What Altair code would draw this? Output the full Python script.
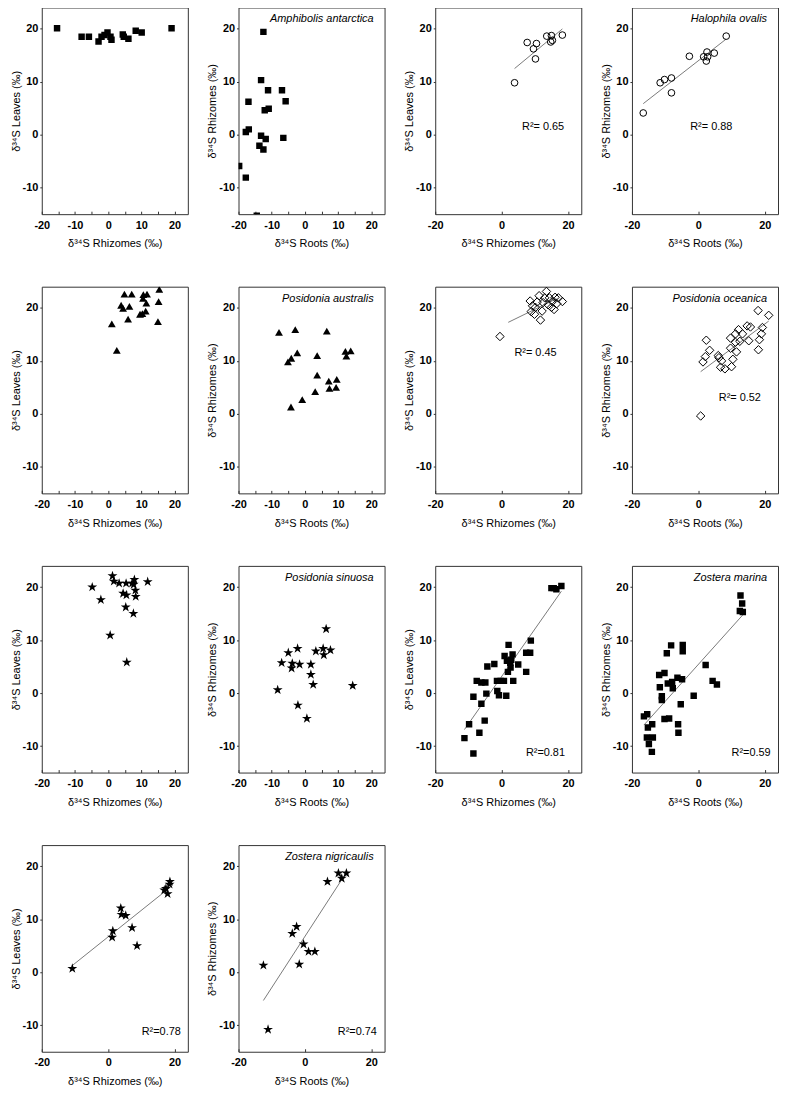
import altair as alt
import pandas as pd

# ---------------- data ----------------
# Amphibolis antarctica
aa_lr_x = [-15.4, -8.0, -5.8, -2.9, -2.0, -1.1, -0.2, 0.7, 1.0, 4.4, 4.7, 6.1, 8.3, 10.1, 19.1]
aa_lr_y = [20.1, 18.5, 18.5, 17.6, 18.5, 18.8, 19.3, 18.5, 17.9, 18.9, 18.5, 18.1, 19.6, 19.3, 20.1]
aa_rr_x = [-12.5, -13.2, -11.1, -6.9, -5.8, -17.0, -12.1, -10.9, -16.9, -17.8, -13.2, -11.8, -6.5, -13.7, -12.5, -19.8, -17.8, -14.5]
aa_rr_y = [19.4, 10.3, 8.4, 8.4, 6.3, 6.2, 4.6, 4.9, 1.0, 0.5, -0.2, -0.8, -0.6, -2.1, -2.8, -5.9, -8.1, -15.3]

# Halophila ovalis
ho_lr_x = [3.9, 7.7, 9.6, 10.5, 10.2, 13.6, 14.8, 15.0, 15.3, 18.3]
ho_lr_y = [9.8, 17.4, 16.2, 17.2, 14.3, 18.6, 17.5, 18.7, 17.8, 18.8]
ho_rr_x = [-16.6, -11.5, -10.2, -8.1, -8.1, -2.7, 1.6, 2.6, 2.4, 2.8, 4.8, 8.4]
ho_rr_y = [4.1, 9.8, 10.4, 10.7, 7.9, 14.8, 14.7, 15.6, 13.9, 14.7, 15.4, 18.6]

# Posidonia australis
pa_lr_x = [4.9, 7.1, 3.9, 4.5, 6.4, 6.0, 1.1, 2.6, 9.6, 10.3, 10.6, 11.7, 10.5, 11.3, 11.5, 15.4, 15.2, 15.0]
pa_lr_y = [22.6, 22.6, 20.5, 19.9, 20.3, 17.9, 17.0, 12.0, 18.8, 18.9, 22.5, 22.6, 21.8, 19.4, 20.9, 23.5, 21.2, 17.4]
pa_rr_x = [-7.8, -2.9, 6.6, -2.3, 3.7, -4.1, -5.1, 3.7, 7.2, 7.4, 9.6, 9.4, 3.1, -0.8, -4.2, 12.2, 12.5, 13.8]
pa_rr_y = [15.4, 15.9, 15.6, 11.5, 11.0, 10.5, 9.8, 7.3, 6.2, 4.8, 6.5, 5.0, 4.2, 2.7, 1.3, 11.8, 10.9, 11.9]

# Posidonia oceanica
po_lr_x = [-0.5, 8.6, 9.3, 8.9, 9.9, 10.2, 10.7, 11.3, 11.7, 12.2, 12.5, 13.0, 13.5, 14.0, 14.4, 15.0, 15.3, 15.8, 16.1, 16.6, 17.1, 18.3]
po_lr_y = [14.6, 21.3, 20.4, 19.3, 18.8, 20.1, 21.1, 22.3, 17.7, 19.4, 21.0, 21.9, 23.1, 20.6, 21.9, 20.1, 21.2, 19.7, 22.0, 20.8, 21.9, 21.2]
po_rr_x = [0.7, 1.4, 2.1, 2.4, 3.4, 6.0, 6.2, 7.0, 6.7, 8.0, 10.0, 9.7, 9.7, 10.4, 11.2, 11.2, 11.5, 12.1, 12.5, 13.3, 14.7, 15.2, 15.7, 18.0, 18.1, 18.4, 19.0, 19.3, 21.2]
po_rr_y = [-0.4, 9.8, 10.8, 13.9, 12.0, 11.0, 10.6, 10.0, 8.8, 8.5, 8.9, 12.4, 14.3, 10.3, 15.1, 13.5, 11.7, 15.9, 13.7, 15.1, 16.6, 13.8, 16.4, 19.5, 12.1, 14.0, 15.1, 16.3, 18.6]

# Posidonia sinuosa
ps_lr_x = [-4.8, -2.2, 1.3, 1.7, 3.3, 5.4, 4.5, 5.5, 7.2, 7.9, 7.7, 8.2, 8.3, 5.3, 7.6, 0.6, 5.6, 11.9]
ps_lr_y = [20.0, 17.6, 22.1, 21.1, 20.7, 20.7, 18.8, 18.5, 20.7, 21.4, 20.5, 19.4, 18.2, 16.2, 15.0, 10.9, 5.8, 21.0]
ps_rr_x = [6.4, -2.2, -5.0, 3.3, 5.5, 5.7, 7.7, -7.0, -3.8, -4.0, -1.6, 1.8, 1.8, 2.5, -8.2, 14.4, -2.1, 0.6]
ps_rr_y = [12.1, 8.4, 7.6, 7.9, 8.4, 7.2, 8.1, 5.7, 5.6, 4.7, 5.4, 5.4, 3.5, 1.6, 0.6, 1.4, -2.3, -4.8]

# Zostera marina
zm_lr_x = [-11.2, -9.8, -8.5, -8.5, -7.5, -6.7, -6.1, -6.1, -4.9, -5.1, -4.6, -4.3, -2.2, -1.4, -1.3, -0.8, -0.3, 0.7, 0.9, 1.4,
           1.6, 1.9, 2.1, 2.6, 2.7, 2.9, 3.3, 3.5, 5.0, 7.4, 7.4, 8.6, 8.8, 15.0, 15.7, 16.5, 18.0]
zm_lr_y = [-8.5, -5.9, -11.4, -0.7, 2.3, -7.5, -2.0, 2.0, 2.0, -5.2, -0.1, 5.0, 5.5, 2.3, 0.4, -0.4, 2.3, 2.3, 7.0, -0.5,
           6.1, 4.0, 9.1, 5.7, 4.8, 6.3, 7.3, 2.3, 5.4, 4.0, 7.6, 7.6, 9.9, 19.8, 19.8, 19.6, 20.2]
zm_rr_x = [-16.4, -15.4, -15.2, -15.5, -14.9, -13.7, -13.9, -14.0, -11.8, -11.6, -11.0, -11.0, -10.2, -10.2, -9.5, -9.2, -8.8, -8.2,
           -7.9, -7.7, -6.3, -6.1, -6.0, -5.3, -4.9, -4.7, -4.7, -1.4, 2.2, 4.3, 5.6, 12.7, 13.2, 12.5, 13.4]
zm_rr_y = [-4.4, -4.0, -6.5, -8.4, -9.6, -8.4, -5.9, -11.1, 3.4, 1.1, -0.6, -1.3, 3.8, -4.9, 7.5, 1.8, -4.8, 9.0,
           2.1, 0.9, 2.9, -5.9, -7.5, -2.1, 2.6, 9.1, 7.9, -0.5, 5.3, 2.3, 1.6, 18.4, 16.9, 15.5, 15.3]

# Zostera nigricaulis
zn_lr_x = [-10.8, 1.2, 1.4, 3.8, 4.0, 5.3, 7.2, 8.7, 16.9, 17.4, 17.9, 18.5, 18.6]
zn_lr_y = [0.7, 6.6, 7.8, 12.1, 10.9, 10.7, 8.4, 5.0, 15.5, 15.8, 14.8, 16.6, 17.1]
zn_rr_x = [-12.5, -11.1, -3.8, -2.5, -1.7, -0.4, 1.1, 3.0, 6.8, 10.1, 11.1, 12.5]
zn_rr_y = [1.3, -10.8, 7.3, 8.6, 1.5, 5.3, 3.9, 3.9, 17.1, 18.7, 17.7, 18.7]

species = ["Amphibolis antarctica", "Halophila ovalis", "Posidonia australis",
           "Posidonia oceanica", "Posidonia sinuosa", "Zostera marina", "Zostera nigricaulis"]
r2_labels = [None, None, "R\u00b2= 0.65", "R\u00b2= 0.88", None, None, "R\u00b2= 0.45", "R\u00b2= 0.52",
             None, None, "R\u00b2=0.81", "R\u00b2=0.59", "R\u00b2=0.78", "R\u00b2=0.74"]
x_ticks = [-20, -15, -10, -5, 0, 5, 10, 15, 20]
y_ticks = [-10, 0, 10, 20]

# ---------------- styling ----------------
FONT = "Liberation Sans"
W, H = 147, 208
STAR = ("M0,-1L0.2245,-0.309L0.951,-0.309L0.363,0.118L0.588,0.809L0,0.382"
        "L-0.588,0.809L-0.363,0.118L-0.951,-0.309L-0.2245,-0.309Z")
XT_LR = "\u03b4\u00b3\u2074S Rhizomes (\u2030)"
XT_RR = "\u03b4\u00b3\u2074S Roots (\u2030)"
YT_L = "\u03b4\u00b3\u2074S Leaves (\u2030)"
YT_R = "\u03b4\u00b3\u2074S Rhizomes (\u2030)"

# annotation positions (data units) for R^2 labels
r2_pos = {2: (12.5, 1.5), 3: (3.9, 1.5), 6: (10.2, 11.4), 7: (12.5, 3.0),
          10: (13.2, -11.4), 11: (15.9, -11.4), 12: (16.0, -11.3), 13: (15.8, -11.3)}

marker = {
    "square": dict(shape="square", size=42, filled=True, color="black", opacity=1),
    "circle": dict(shape="circle", size=45, filled=False, color="black", strokeWidth=1, opacity=1),
    "triangle": dict(shape="triangle-up", size=62, filled=True, color="black", opacity=1),
    "diamond": dict(shape="diamond", size=72, filled=False, color="black", strokeWidth=1, opacity=1),
    "star": dict(shape=STAR, size=110, filled=True, color="black", opacity=1),
}

xscale = alt.Scale(domain=[-20, 24], nice=False, zero=False)
yscale = alt.Scale(domain=[-15, 24], nice=False, zero=False)
xaxis = dict(values=x_ticks, labelExpr="datum.value % 10 == 0 ? datum.value + '' : ''",
             offset=-3, tickSize=3, labelPadding=5, labelFlush=False)
yaxis = dict(values=y_ticks, labelExpr="datum.value + ''", tickSize=2, labelPadding=2)


def panel(idx, xs, ys, kind, xtitle, ytitle, label=None, fit=False, extent=None):
    df = pd.DataFrame({"x": xs, "y": ys})
    base = alt.Chart(df)
    pts = base.mark_point(clip=True, **marker[kind]).encode(
        x=alt.X("x:Q", scale=xscale, title=xtitle, axis=alt.Axis(**xaxis)),
        y=alt.Y("y:Q", scale=yscale, title=ytitle, axis=alt.Axis(**yaxis)),
    )
    layers = []
    if fit:
        kw = {}
        if extent is not None:
            kw["extent"] = extent
        line = base.transform_regression("x", "y", **kw).mark_line(
            color="#7a7a7a", strokeWidth=1, clip=True
        ).encode(x=alt.X("x:Q", scale=xscale), y=alt.Y("y:Q", scale=yscale))
        layers.append(line)
    layers.append(pts)
    if label is not None:
        t = alt.Chart(pd.DataFrame({"t": [label]})).mark_text(
            align="right", baseline="middle", font=FONT, fontSize=11,
            fontStyle="italic", color="black"
        ).encode(x=alt.value(W - 11), y=alt.value(12), text="t:N")
        layers.append(t)
    if r2_labels[idx] is not None:
        px, py = r2_pos[idx]
        r = alt.Chart(pd.DataFrame({"x": [px], "y": [py], "t": [r2_labels[idx]]})).mark_text(
            align="center", baseline="middle", font=FONT, fontSize=11, color="black"
        ).encode(x=alt.X("x:Q", scale=xscale), y=alt.Y("y:Q", scale=yscale), text="t:N")
        layers.append(r)
    return alt.layer(*layers).properties(width=W, height=H)


panels = [
    panel(0, aa_lr_x, aa_lr_y, "square", XT_LR, YT_L),
    panel(1, aa_rr_x, aa_rr_y, "square", XT_RR, YT_R, label=species[0]),
    panel(2, ho_lr_x, ho_lr_y, "circle", XT_LR, YT_L, fit=True),
    panel(3, ho_rr_x, ho_rr_y, "circle", XT_RR, YT_R, label=species[1], fit=True),
    panel(4, pa_lr_x, pa_lr_y, "triangle", XT_LR, YT_L),
    panel(5, pa_rr_x, pa_rr_y, "triangle", XT_RR, YT_R, label=species[2]),
    panel(6, po_lr_x, po_lr_y, "diamond", XT_LR, YT_L, fit=True, extent=[2, 16.5]),
    panel(7, po_rr_x, po_rr_y, "diamond", XT_RR, YT_R, label=species[3], fit=True),
    panel(8, ps_lr_x, ps_lr_y, "star", XT_LR, YT_L),
    panel(9, ps_rr_x, ps_rr_y, "star", XT_RR, YT_R, label=species[4]),
    panel(10, zm_lr_x, zm_lr_y, "square", XT_LR, YT_L, fit=True),
    panel(11, zm_rr_x, zm_rr_y, "square", XT_RR, YT_R, label=species[5], fit=True),
    panel(12, zn_lr_x, zn_lr_y, "star", XT_LR, YT_L, fit=True),
    panel(13, zn_rr_x, zn_rr_y, "star", XT_RR, YT_R, label=species[6], fit=True),
]

chart = alt.concat(
    *panels, columns=4, spacing=alt.RowColnumber(row=73, column=51), bounds="flush"
).properties(
    padding={"left": 1, "top": -5, "right": 0, "bottom": 0},
    background="white",
).configure_view(
    stroke="#333333", strokeWidth=1
).configure_axis(
    grid=False, domain=False, ticks=True, tickColor="#333333", tickWidth=1,
    labelFont=FONT, labelFontSize=11, labelFontWeight="bold", labelColor="black",
    titleFont=FONT, titleFontSize=11, titleFontWeight="normal", titleColor="black",
).configure_axisX(
    titlePadding=8
).configure_axisY(
    titlePadding=1
)

chart.save("out.html", embed_options={"renderer": "svg", "actions": False})
